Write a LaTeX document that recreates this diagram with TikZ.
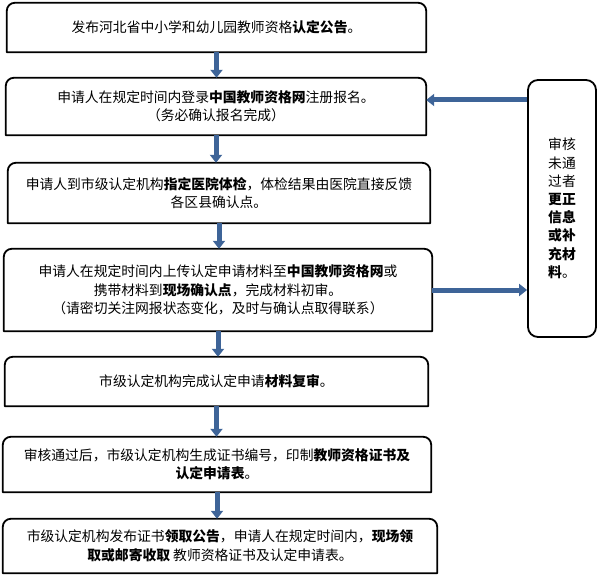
\documentclass[tikz,border=0pt]{standalone}
\usepackage{fontspec}
\setmainfont{Noto Sans CJK SC}
\usepackage{xcolor}
\usetikzlibrary{arrows.meta}
\definecolor{flowblue}{RGB}{62,100,152}

\begin{document}
\begin{tikzpicture}[
    x=1pt, y=-1pt,
    stepbox/.style={rectangle, inner sep=0pt, align=center, font=\fontsize{13.8}{18.5}\selectfont},
    outline/.style={line width=1.8pt, line join=round},
    sidebox/.style={rectangle, draw, line width=1.8pt, rounded corners=10pt, align=center, font=\fontsize{13.8}{18.2}\selectfont},
    flow/.style={-{Triangle[length=8pt, width=12pt]}, line width=5pt, draw=flowblue}
]
\useasboundingbox (0,0) rectangle (598,578);

% 流程步骤
\node[stepbox, minimum width=419pt, minimum height=49pt] (publish) at (216.5,27.5) {发布河北省中小学和幼儿园教师资格\textbf{认定公告}。};

\node[stepbox, minimum width=420pt, minimum height=57pt] (register) at (216,106.5) {申请人在规定时间内登录\textbf{中国教师资格网}注册报名。\\（务必确认报名完成）};

\node[stepbox, minimum width=422pt, minimum height=60pt] (exam) at (219,193) {申请人到市级认定机构\textbf{指定医院体检}，体检结果由医院直接反馈\\各区县确认点。};

\node[stepbox, minimum width=428pt, minimum height=82pt] (upload) at (218,290) {申请人在规定时间内上传认定申请材料至\textbf{中国教师资格网}或\\携带材料到\textbf{现场确认点}，完成材料初审。\\（请密切关注网报状态变化，及时与确认点取得联系）};

\node[stepbox, minimum width=423pt, minimum height=49pt] (recheck) at (216.5,381.5) {市级认定机构完成认定申请\textbf{材料复审}。};

\node[stepbox, minimum width=428pt, minimum height=55pt] (issue) at (217,464.5) {审核通过后，市级认定机构生成证书编号，印制\textbf{教师资格证书及}\\\textbf{认定申请表}。};

\node[stepbox, minimum width=434pt, minimum height=54pt] (collect) at (220,546) {市级认定机构发布证书\textbf{领取公告}，申请人在规定时间内，\textbf{现场领}\\\textbf{取或邮寄收取} 教师资格证书及认定申请表。};

% 上方圆角的边框
\foreach \n in {publish,register,exam,upload,recheck,issue,collect}
    \draw[outline] (\n.south west) [rounded corners=8pt] -- (\n.north west) -- (\n.north east) [sharp corners] -- (\n.south east) -- cycle;

% 审核未通过
\node[sidebox, minimum width=68pt, minimum height=257pt] (side) at (562,208.5) {审核\\未通\\过者\\\textbf{更正}\\\textbf{信息}\\\textbf{或补}\\\textbf{充材}\\\textbf{料}。};

% 流程箭头
\draw[flow] (publish.south) -- (publish.south |- register.north);
\draw[flow] (register.south) -- (register.south |- exam.north);
\draw[flow] (exam.south) -- (exam.south |- upload.north);
\draw[flow] (upload.south) -- (upload.south |- recheck.north);
\draw[flow] (recheck.south) -- (recheck.south |- issue.north);
\draw[flow] (issue.south) -- (issue.south |- collect.north);

% 返回箭头
\coordinate (back) at ([yshift=6.5pt]register.east);
\draw[flow] (side.west |- back) -- (back);
\draw[flow] (upload.east) -- (upload.east -| side.west);

\end{tikzpicture}
\end{document}
